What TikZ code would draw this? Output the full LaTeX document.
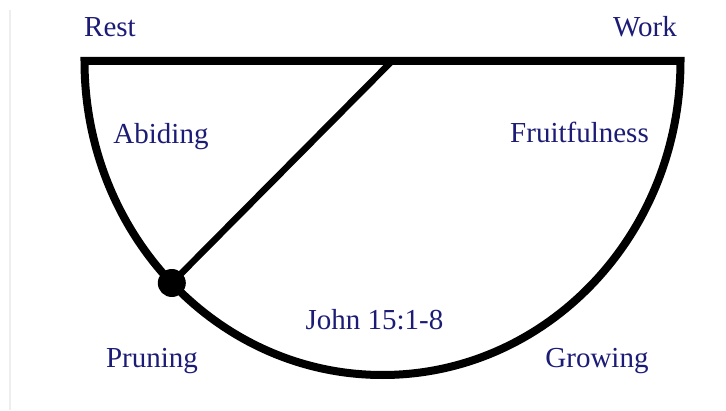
\documentclass[tikz,border=0pt]{standalone}
\usepackage{fontspec}
\setmainfont{Liberation Serif}
\definecolor{navy}{RGB}{28,28,118}
\definecolor{edge}{RGB}{238,238,238}
\begin{document}
\begin{tikzpicture}[x=1pt,y=1pt,
  lbl/.style={text=navy,font=\fontsize{29}{32}\selectfont,anchor=base,inner sep=0pt},
  thick line/.style={line width=8pt,draw=black}]
\useasboundingbox (0,0) rectangle (726,410);
\draw[edge,line width=1.2pt] (10,0) -- (10,400);
\coordinate (c) at (382.5,349);
\coordinate (tl) at (84.5,349);
\coordinate (tr) at (680.5,349);
\coordinate (top) at (392,349);
\draw[thick line,line join=miter] (tl) -- (tr) arc[start angle=0,end angle=-180,x radius=298,y radius=314] -- cycle;
\node[circle,fill=black,minimum size=28pt,inner sep=0pt] (dot) at (171.8,127) {};
\draw[line width=6.5pt] (dot.center) -- (top);
\node[lbl] (rest) at (110,373) {Rest};
\node[lbl] (work) at (645,373) {Work};
\node[lbl] (abiding) at (161,266) {Abiding};
\node[lbl] (fruit) at (579.5,267) {Fruitfulness};
\node[lbl] (john) at (374.5,80) {John 15:1-8};
\node[lbl] (pruning) at (152,42) {Pruning};
\node[lbl] (growing) at (597,42) {Growing};
\end{tikzpicture}
\end{document}
